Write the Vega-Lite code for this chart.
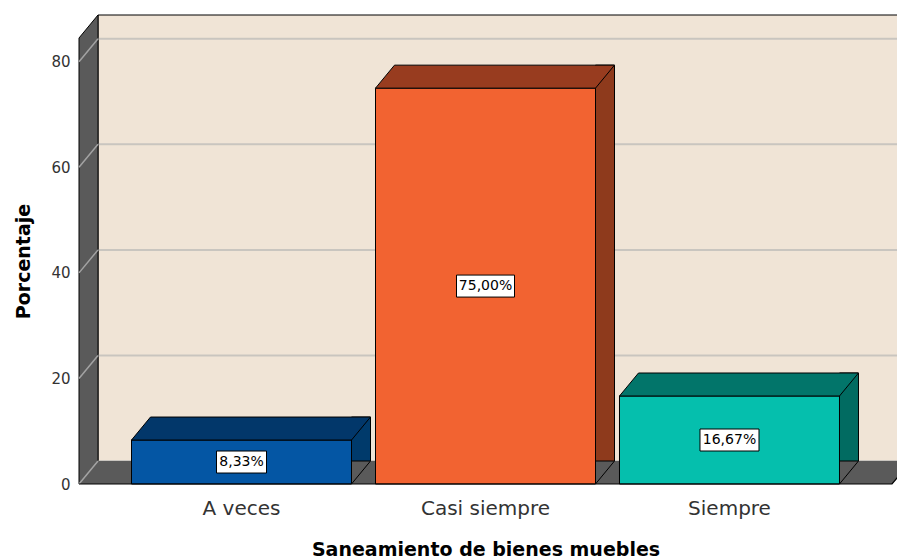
{
  "$schema": "https://vega.github.io/schema/vega-lite/v6.json",
  "autosize": {"type": "none"},
  "padding": {"left": 79, "top": 38, "right": 5, "bottom": 76},
  "width": 813,
  "height": 446,
  "background": "white",
  "config": {"view": {"stroke": null}, "font": "DejaVu Sans"},
  "datasets": {
    "bars": [
      {"cat": "A veces", "value": 8.33, "label": "8,33%"},
      {"cat": "Casi siempre", "value": 75.0, "label": "75,00%"},
      {"cat": "Siempre", "value": 16.67, "label": "16,67%"}
    ],
    "grid": [{"g": 0}, {"g": 20}, {"g": 40}, {"g": 60}, {"g": 80}],
    "frame": [{"part": "walls"}]
  },
  "resolve": {"scale": {"fill": "independent", "shape": "independent"}},
  "layer": [
    {
      "data": {"name": "frame"},
      "mark": {"type": "point", "shape": "M -387.5 -23 L 425.5 -23 L 425.5 -469 L -387.5 -469 Z", "size": 4, "filled": true, "fill": "#f0e4d6", "stroke": "#000000", "strokeWidth": 1, "opacity": 1},
      "encoding": {"y": {"datum": 0, "type": "quantitative", "scale": {"domain": [0, 84.5], "nice": false, "zero": true}}}
    },
    {
      "data": {"name": "grid"},
      "mark": {"type": "point", "shape": "M -387.5 -23 L 425.5 -23", "size": 4, "filled": false, "stroke": "#c9c5bf", "strokeWidth": 2, "opacity": 1},
      "encoding": {"y": {"field": "g", "type": "quantitative", "scale": {"domain": [0, 84.5], "nice": false, "zero": true}}}
    },
    {
      "data": {"name": "frame"},
      "mark": {"type": "point", "shape": "M -406.5 0 L -406.5 -446 L -387.5 -469 L -387.5 -23", "size": 4, "filled": true, "fill": "#5a5a5a", "stroke": "#000000", "strokeWidth": 1, "opacity": 1},
      "encoding": {"y": {"datum": 0, "type": "quantitative", "scale": {"domain": [0, 84.5], "nice": false, "zero": true}}}
    },
    {
      "data": {"name": "frame"},
      "mark": {"type": "point", "shape": "M -406.5 0 L 406.5 0 L 425.5 -23 L -387.5 -23 Z", "size": 4, "filled": true, "fill": "#5a5a5a", "strokeWidth": 0, "opacity": 1},
      "encoding": {"y": {"datum": 0, "type": "quantitative", "scale": {"domain": [0, 84.5], "nice": false, "zero": true}}}
    },
    {
      "data": {"name": "grid"},
      "mark": {"type": "point", "shape": "M -406.5 0 L -387.5 -23", "size": 4, "filled": false, "stroke": "#a3a3a3", "strokeWidth": 1.5, "opacity": 1},
      "encoding": {"y": {"field": "g", "type": "quantitative", "scale": {"domain": [0, 84.5], "nice": false, "zero": true}}}
    },
    {
      "data": {"name": "bars"},
      "mark": {"type": "bar", "width": 19, "xOffset": 119.5, "yOffset": -23, "stroke": "#000000", "strokeWidth": 1},
      "encoding": {
        "x": {"field": "cat", "type": "nominal", "scale": {"domain": ["A veces", "Casi siempre", "Siempre"], "paddingInner": 0.0984, "paddingOuter": 0.2152}},
        "y": {"field": "value", "type": "quantitative", "scale": {"domain": [0, 84.5], "nice": false, "zero": true}},
        "fill": {"field": "cat", "type": "nominal", "scale": {"domain": ["A veces", "Casi siempre", "Siempre"], "range": ["#003a6b", "#8e3a1c", "#016b61"]}, "legend": null}
      }
    },
    {
      "data": {"name": "bars"},
      "mark": {"type": "bar", "width": 220, "stroke": "#000000", "strokeWidth": 1},
      "encoding": {
        "x": {"field": "cat", "type": "nominal", "scale": {"domain": ["A veces", "Casi siempre", "Siempre"], "paddingInner": 0.0984, "paddingOuter": 0.2152},
          "axis": {"title": "Saneamiento de bienes muebles", "labelAngle": 0, "labelAlign": "center", "labelBaseline": "top", "domain": false, "ticks": false, "tickSize": 0, "grid": false, "labelFont": "DejaVu Sans", "labelFontSize": 20, "labelColor": "#333333", "labelPadding": 14, "titleFont": "DejaVu Sans", "titleFontSize": 19, "titleFontWeight": "bold", "titleColor": "#000000", "titlePadding": 22}},
        "y": {"field": "value", "type": "quantitative", "scale": {"domain": [0, 84.5], "nice": false, "zero": true},
          "axis": {"title": "Porcentaje", "values": [0, 20, 40, 60, 80], "domain": false, "ticks": false, "tickSize": 0, "grid": false, "labelFont": "DejaVu Sans", "labelFontSize": 15, "labelColor": "#333333", "labelPadding": 9, "titleFont": "DejaVu Sans", "titleFontSize": 19, "titleFontWeight": "bold", "titleColor": "#000000", "titlePadding": 17}},
        "fill": {"field": "cat", "type": "nominal", "scale": {"domain": ["A veces", "Casi siempre", "Siempre"], "range": ["#0456a4", "#f26331", "#05bfad"]}, "legend": null}
      }
    },
    {
      "data": {"name": "bars"},
      "mark": {"type": "point", "shape": "M -110 0 L 110 0 L 129 -23 L -91 -23 Z", "size": 4, "filled": true, "stroke": "#000000", "strokeWidth": 1, "opacity": 1},
      "encoding": {
        "x": {"field": "cat", "type": "nominal"},
        "y": {"field": "value", "type": "quantitative", "scale": {"domain": [0, 84.5], "nice": false, "zero": true}},
        "fill": {"field": "cat", "type": "nominal", "scale": {"domain": ["A veces", "Casi siempre", "Siempre"], "range": ["#02376a", "#983c1f", "#02756a"]}, "legend": null}
      }
    },
    {
      "data": {"name": "bars"},
      "mark": {"type": "point", "shape": "M 110 0 L 129 -23 L 131 -23 L 131 0 Z", "size": 4, "filled": true, "fill": "#5a5a5a", "strokeWidth": 0, "opacity": 1},
      "encoding": {
        "x": {"field": "cat", "type": "nominal"},
        "y": {"datum": 0, "type": "quantitative", "scale": {"domain": [0, 84.5], "nice": false, "zero": true}}
      }
    },
    {
      "data": {"name": "bars"},
      "mark": {"type": "point", "shape": "M 110 0 L 129 -23", "size": 4, "filled": false, "stroke": "#000000", "strokeWidth": 1, "opacity": 1},
      "encoding": {
        "x": {"field": "cat", "type": "nominal"},
        "y": {"datum": 0, "type": "quantitative", "scale": {"domain": [0, 84.5], "nice": false, "zero": true}}
      }
    },
    {
      "data": {"name": "frame"},
      "mark": {"type": "point", "shape": "M 425.5 -23 L 406.5 0 L -406.5 0", "size": 4, "filled": false, "stroke": "#000000", "strokeWidth": 1.2, "opacity": 1},
      "encoding": {"y": {"datum": 0, "type": "quantitative", "scale": {"domain": [0, 84.5], "nice": false, "zero": true}}}
    },
    {
      "data": {"name": "bars"},
      "transform": [{"calculate": "datum.value / 2", "as": "mid"}],
      "mark": {"type": "point", "size": 4, "filled": true, "fill": "#ffffff", "stroke": "#000000", "strokeWidth": 1, "opacity": 1},
      "encoding": {
        "x": {"field": "cat", "type": "nominal"},
        "y": {"field": "mid", "type": "quantitative", "scale": {"domain": [0, 84.5], "nice": false, "zero": true}},
        "shape": {"field": "cat", "type": "nominal", "scale": {"domain": ["A veces", "Casi siempre", "Siempre"], "range": ["M -25 -11 H 25 V 11 H -25 Z", "M -29 -11 H 29 V 11 H -29 Z", "M -29.5 -11 H 29.5 V 11 H -29.5 Z"]}, "legend": null}
      }
    },
    {
      "data": {"name": "bars"},
      "transform": [{"calculate": "datum.value / 2", "as": "mid"}],
      "mark": {"type": "text", "font": "DejaVu Sans", "fontSize": 14, "color": "#000000", "align": "center", "baseline": "middle"},
      "encoding": {
        "x": {"field": "cat", "type": "nominal"},
        "y": {"field": "mid", "type": "quantitative", "scale": {"domain": [0, 84.5], "nice": false, "zero": true}},
        "text": {"field": "label"}
      }
    }
  ]
}
